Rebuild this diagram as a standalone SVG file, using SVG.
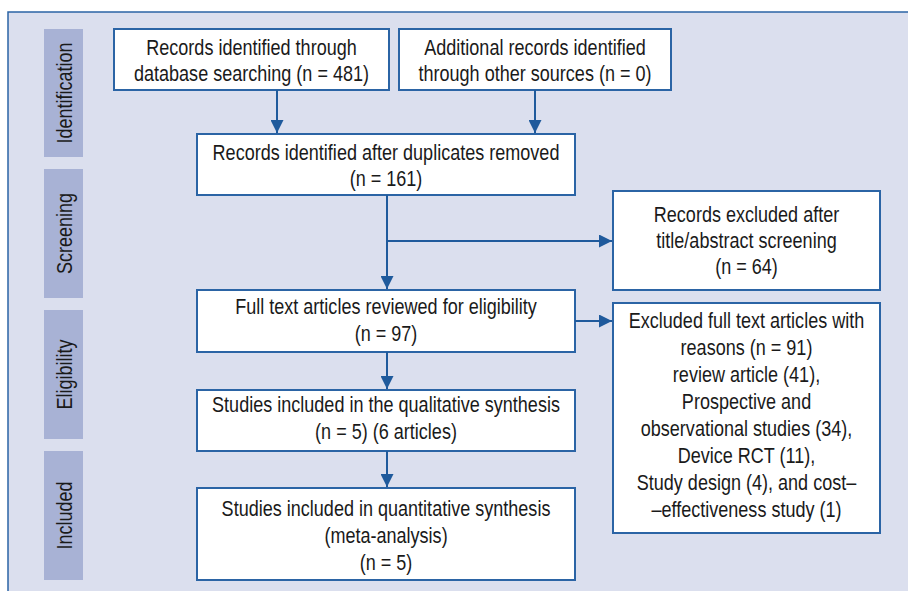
<svg xmlns="http://www.w3.org/2000/svg" width="908" height="591" viewBox="0 0 908 591">
<defs>
<style>
.frame{fill:#dbdfee;stroke:#2b64a5;stroke-width:1.5}
.bar{fill:#a8b2d5}
.box{fill:#ffffff;stroke:#2b64a5;stroke-width:2}
.t{font-family:"Liberation Sans",Arial,sans-serif;font-size:22px;fill:#1a1a1a;text-anchor:middle}
.c{fill:none;stroke:#1f5a9c;stroke-width:2}
</style>
<marker id="ah" viewBox="0 0 10 10" refX="10" refY="5" markerWidth="6.5" markerHeight="6.5" markerUnits="strokeWidth" orient="auto">
<path d="M0,0 L10,5 L0,10 z" fill="#1f5a9c"/>
</marker>
</defs>
<rect class="frame" x="8" y="12" width="910" height="600"/>
<g id="stage-identification"><rect class="bar" x="44" y="29" width="39" height="128"/><text class="t" transform="translate(71.5,93) rotate(-90) scale(0.82,1)">Identification</text></g>
<g id="stage-screening"><rect class="bar" x="44" y="169" width="39" height="129"/><text class="t" transform="translate(71.5,233.5) rotate(-90) scale(0.82,1)">Screening</text></g>
<g id="stage-eligibility"><rect class="bar" x="44" y="310" width="39" height="129"/><text class="t" transform="translate(71.5,374.5) rotate(-90) scale(0.82,1)">Eligibility</text></g>
<g id="stage-included"><rect class="bar" x="44" y="451" width="39" height="129"/><text class="t" transform="translate(71.5,515.5) rotate(-90) scale(0.82,1)">Included</text></g>

<g id="n1"><rect class="box" x="114" y="29" width="275" height="61"/><text class="t" transform="matrix(0.82,0,0,1,251.5,55)">Records identified through</text><text class="t" transform="matrix(0.82,0,0,1,251.5,81)">database searching (n = 481)</text></g>
<g id="n2"><rect class="box" x="399" y="29" width="272" height="61"/><text class="t" transform="matrix(0.82,0,0,1,535,55)">Additional records identified</text><text class="t" transform="matrix(0.82,0,0,1,535,81)">through other sources (n = 0)</text></g>
<g id="n3"><rect class="box" x="197" y="134" width="378" height="61"/><text class="t" transform="matrix(0.82,0,0,1,386,160)">Records identified after duplicates removed</text><text class="t" transform="matrix(0.82,0,0,1,386,186)">(n = 161)</text></g>
<g id="n4"><rect class="box" x="613" y="191" width="267" height="99"/><text class="t" transform="matrix(0.82,0,0,1,746.5,222)">Records excluded after</text><text class="t" transform="matrix(0.82,0,0,1,746.5,248)">title/abstract screening</text><text class="t" transform="matrix(0.82,0,0,1,746.5,274)">(n = 64)</text></g>
<g id="n5"><rect class="box" x="197" y="290" width="378" height="62"/><text class="t" transform="matrix(0.82,0,0,1,386,314)">Full text articles reviewed for eligibility</text><text class="t" transform="matrix(0.82,0,0,1,386,341)">(n = 97)</text></g>
<g id="n6"><rect class="box" x="613" y="303" width="267" height="230"/><text class="t" transform="matrix(0.82,0,0,1,746.5,328)">Excluded full text articles with</text><text class="t" transform="matrix(0.82,0,0,1,746.5,355)">reasons (n = 91)</text><text class="t" transform="matrix(0.82,0,0,1,746.5,382)">review article (41),</text><text class="t" transform="matrix(0.82,0,0,1,746.5,409)">Prospective and</text><text class="t" transform="matrix(0.82,0,0,1,746.5,436)">observational studies (34),</text><text class="t" transform="matrix(0.82,0,0,1,746.5,463)">Device RCT (11),</text><text class="t" transform="matrix(0.82,0,0,1,746.5,490)">Study design (4), and cost–</text><text class="t" transform="matrix(0.82,0,0,1,746.5,517)">–effectiveness study (1)</text></g>
<g id="n7"><rect class="box" x="197" y="390" width="378" height="61"/><text class="t" transform="matrix(0.82,0,0,1,386,412)">Studies included in the qualitative synthesis</text><text class="t" transform="matrix(0.82,0,0,1,386,439)">(n = 5) (6 articles)</text></g>
<g id="n8"><rect class="box" x="197" y="488" width="378" height="92"/><text class="t" transform="matrix(0.82,0,0,1,386,516)">Studies included in quantitative synthesis</text><text class="t" transform="matrix(0.82,0,0,1,386,543)">(meta-analysis)</text><text class="t" transform="matrix(0.82,0,0,1,386,570)">(n = 5)</text></g>

<g id="connectors">
<path class="c" d="M277,90 V133" marker-end="url(#ah)"/>
<path class="c" d="M535,90 V133" marker-end="url(#ah)"/>
<path class="c" d="M387,195 V289" marker-end="url(#ah)"/>
<path class="c" d="M387,241 H612" marker-end="url(#ah)"/>
<path class="c" d="M575,321 H612" marker-end="url(#ah)"/>
<path class="c" d="M387,352 V389" marker-end="url(#ah)"/>
<path class="c" d="M387,451 V487" marker-end="url(#ah)"/>
</g>
</svg>
